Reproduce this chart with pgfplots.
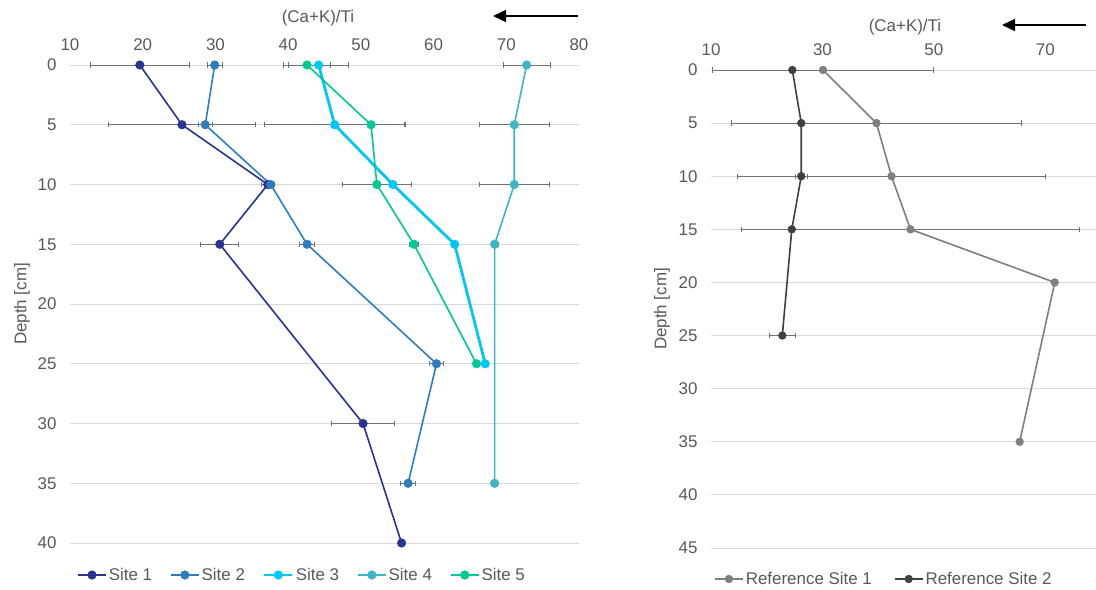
\documentclass[border=0pt]{standalone}
\usepackage{fontspec}
\setmainfont{Liberation Sans}
\usepackage{pgfplots}
\usepackage{pgfplotstable}
\pgfplotsset{compat=1.18}
\usetikzlibrary{arrows.meta}

\definecolor{txt}{HTML}{595959}
\definecolor{gridc}{HTML}{D9D9D9}
\definecolor{errc}{HTML}{727272}
\definecolor{s1}{HTML}{293391}
\definecolor{s2}{HTML}{2E7DBF}
\definecolor{s3}{HTML}{00C8F5}
\definecolor{s4}{HTML}{3DB5C6}
\definecolor{s5}{HTML}{00C994}
\definecolor{r1}{HTML}{7F7F7F}
\definecolor{r2}{HTML}{404040}

% ratio (v), depth in cm (d), half-width of the error bar (e)
\pgfplotstableread{
v    d  e
19.6 0  6.8
25.4 5  10.1
37.2 10 0.9
30.6 15 2.6
50.3 30 4.3
55.6 40 0
}\siteA
\pgfplotstableread{
v    d  e
29.9 0  1.0
28.6 5  1.0
37.6 10 0.5
42.6 15 1.0
60.4 25 1.0
56.5 35 1.0
}\siteB
\pgfplotstableread{
v    d  e
44.2 0  4.1
46.4 5  9.6
54.4 10 0
62.9 15 0
67.1 25 0
}\siteC
\pgfplotstableread{
v    d  e
72.8 0  3.2
71.1 5  4.8
71.1 10 4.8
68.4 15 0.5
68.4 35 0
}\siteD
\pgfplotstableread{
v    d  e
42.6 0  3.2
51.4 5  4.7
52.2 10 4.8
57.3 15 0.6
65.9 25 0.3
}\siteE
\pgfplotstableread{
v    d  e
30.1 0  19.8
39.7 5  26.0
42.4 10 27.6
45.8 15 30.4
71.7 20 0
65.4 35 0
}\refA
\pgfplotstableread{
v    d  e
24.6 0  0
26.2 5  0
26.2 10 1.05
24.5 15 0
22.8 25 2.4
}\refB

\pgfplotsset{
  depthaxis/.style={
    scale only axis,
    y dir=reverse,
    axis line style={draw=none},
    major tick length=0pt,
    ymajorgrids,
    grid style={gridc, line width=0.9bp},
    xticklabel pos=top,
    every tick label/.append style={font=\fontsize{17}{20}\selectfont, text=txt},
    yticklabel style={xshift=-10bp},
    xticklabel style={yshift=11bp},
    /pgf/number format/assume math mode=true,
    clip=false,
    legend columns=-1,
    legend style={draw=none, fill=none, font=\fontsize{17}{20}\selectfont, text=txt,
      /tikz/every even column/.append style={column sep=16bp}},
    legend image code/.code={\draw[mark repeat=2,mark phase=2,##1] plot coordinates {(0bp,0bp)(14bp,0bp)(28bp,0bp)};},
  },
  site/.style={color=#1, line width=1.6bp, mark=*, mark size=4.3bp, mark options={fill=#1, draw=#1, solid, line width=0.5bp}},
  xerr/.style={error bars/.cd, x dir=both, x explicit,
    error mark=|,
    error bar style={color=errc, line width=0.8bp},
    error mark options={color=errc, mark size=2.7bp, line width=0.8bp}},
}

\begin{document}
\begin{tikzpicture}
\useasboundingbox (0,0) rectangle (1096bp,-590bp);

\begin{axis}[depthaxis,
  at={(70bp,-65bp)}, anchor=north west,
  width=509bp, height=478bp,
  xmin=10, xmax=80, ymin=0, ymax=40,
  xtick={10,20,...,80}, ytick={0,5,...,40},
  legend style={at={(axis description cs:0,0)}, anchor=west, xshift=4bp, yshift=-32bp}]
\addplot[site=s1, xerr] table[x=v, y=d, x error=e] {\siteA};
\addplot[site=s2, xerr] table[x=v, y=d, x error=e] {\siteB};
\addplot[site=s3, line width=2.8bp, xerr] table[x=v, y=d, x error=e] {\siteC};
\addplot[site=s4, xerr] table[x=v, y=d, x error=e] {\siteD};
\addplot[site=s5, xerr] table[x=v, y=d, x error=e] {\siteE};
\legend{Site 1, Site 2, Site 3, Site 4, Site 5}
\end{axis}

\begin{axis}[depthaxis,
  at={(711bp,-70bp)}, anchor=north west,
  width=390bp, height=478bp,
  xmin=10, xmax=80, ymin=0, ymax=45,
  xtick={10,30,50,70}, ytick={0,5,...,45},
  legend style={at={(axis description cs:0,0)}, anchor=west, xshift=0bp, yshift=-31bp,
    /tikz/every even column/.append style={column sep=20bp}}]
\addplot[site=r1, mark size=3.9bp, xerr] table[x=v, y=d, x error=e] {\refA};
\addplot[site=r2, mark size=3.9bp, xerr] table[x=v, y=d, x error=e] {\refB};
\legend{Reference Site 1, Reference Site 2}
\end{axis}

% axis titles, depth labels and direction arrows
\node[text=txt, font=\fontsize{17}{20}\selectfont] at (318bp,-18bp) {(Ca+K)/Ti};
\node[text=txt, font=\fontsize{17}{20}\selectfont] at (905bp,-27bp) {(Ca+K)/Ti};
\node[text=txt, font=\fontsize{17}{20}\selectfont, rotate=90] at (22bp,-304bp) {Depth [cm]};
\node[text=txt, font=\fontsize{17}{20}\selectfont, rotate=90] at (662bp,-309bp) {Depth [cm]};
\draw[-{Triangle[length=13bp,width=12bp]}, line width=1.5bp] (578bp,-16bp) -- (493bp,-16bp);
\draw[-{Triangle[length=13bp,width=12bp]}, line width=1.5bp] (1086bp,-25bp) -- (1002bp,-25bp);
\end{tikzpicture}
\end{document}
